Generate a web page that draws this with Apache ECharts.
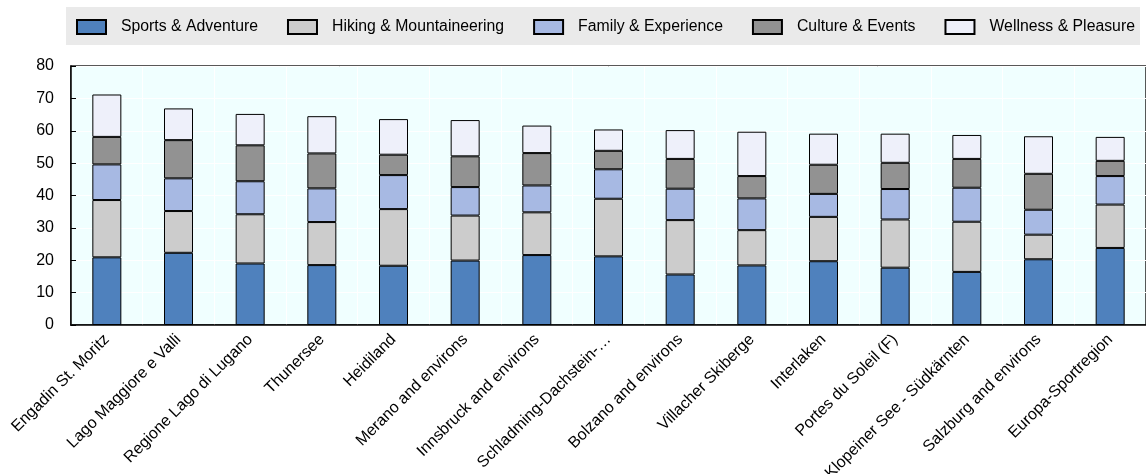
<!DOCTYPE html>
<html>
<head>
<meta charset="utf-8">
<script src="https://cdn.jsdelivr.net/npm/echarts@6/dist/echarts.min.js"></script>
<style>
    html, body { margin: 0; padding: 0; background: #fff; }
    #chart-box { width: 1146px; height: 474px; }
</style>
</head>
<body>
<div id="chart-box"></div>
<script>
// 地區名稱
var regions = ['Engadin St. Moritz', 'Lago Maggiore e Valli', 'Regione Lago di Lugano', 'Thunersee', 'Heidiland',
    'Merano and environs', 'Innsbruck and environs', 'Schladming-Dachstein-…', 'Bolzano and environs', 'Villacher Skiberge',
    'Interlaken', 'Portes du Soleil (F)', 'Klopeiner See - Südkärnten', 'Salzburg and environs', 'Europa-Sportregion'];

// 各類別數值
var sportsAdventure = [20.9, 22.3, 19.0, 18.5, 18.3, 19.9, 21.6, 21.2, 15.6, 18.4, 19.7, 17.7, 16.4, 20.3, 23.8];
var hikingMountain = [17.7, 12.9, 15.2, 13.3, 17.5, 13.9, 13.2, 17.8, 16.8, 10.9, 13.7, 14.9, 15.5, 7.6, 13.4];
var familyExperience = [11.0, 10.1, 10.2, 10.4, 10.5, 8.8, 8.3, 9.1, 9.7, 9.8, 7.1, 9.4, 10.5, 7.7, 8.8];
var cultureEvents = [8.5, 11.8, 11.1, 10.8, 6.3, 9.5, 10.0, 5.7, 9.2, 6.9, 9.0, 8.1, 8.9, 11.1, 4.7];
var wellnessPleasure = [13.1, 9.8, 9.7, 11.5, 11.0, 11.2, 8.5, 6.6, 8.9, 13.7, 9.6, 9.0, 7.4, 11.6, 7.4];

var seriesNames = ['Sports & Adventure', 'Hiking & Mountaineering', 'Family & Experience', 'Culture & Events', 'Wellness & Pleasure'];
var seriesData = [sportsAdventure, hikingMountain, familyExperience, cultureEvents, wellnessPleasure];

stackedChart();

function stackedChart() {
    var chartDom = document.getElementById('chart-box');
    var myChart = echarts.init(chartDom);
    var font = "'Liberation Sans Narrow', 'Arial Narrow', 'Liberation Sans', sans-serif";

    var option = {
        animation: false,
        color: ['#4f81bd', '#cccccc', '#a7b9e3', '#929292', '#eef0fa'],
        textStyle: { fontFamily: font },
        // 圖例底色
        graphic: [{
            type: 'rect',
            shape: { x: 66, y: 7, width: 1074, height: 38 },
            style: { fill: '#eaeaea' },
            z: -1
        }],
        legend: {
            left: 76,
            top: 19,
            width: 1100,
            padding: 0,
            itemWidth: 29,
            itemHeight: 14,
            itemGap: 29,
            icon: 'rect',
            textStyle: {
                color: '#000',
                fontSize: 15.8,
                fontFamily: font,
                padding: [0, 0, 0, 10]
            },
            data: seriesNames
        },
        grid: {
            left: 71,
            right: 0,
            top: 66,
            bottom: 149,
            outerBoundsMode: 'none',
            show: true,
            backgroundColor: '#f0ffff',
            borderColor: '#222',
            borderWidth: 1.5
        },
        xAxis: {
            type: 'category',
            data: regions,
            axisLine: { lineStyle: { color: '#000', width: 1.5 } },
            axisTick: { inside: true, length: 4, lineStyle: { color: '#000' } },
            splitLine: { show: true, lineStyle: { color: '#ffffff', width: 1 } },
            axisLabel: {
                interval: 0,
                rotate: 45,
                color: '#000',
                fontSize: 16,
                fontFamily: font,
                margin: 12
            }
        },
        yAxis: {
            type: 'value',
            min: 0,
            max: 80,
            interval: 10,
            axisLine: { show: true, lineStyle: { color: '#000', width: 1.5 } },
            axisTick: { show: true, inside: true, length: 5, lineStyle: { color: '#000' } },
            splitLine: { lineStyle: { color: '#ffffff', width: 1 } },
            axisLabel: { color: '#000', fontSize: 16, fontFamily: font, margin: 17 }
        },
        series: seriesNames.map(function (name, i) {
            return {
                name: name,
                type: 'bar',
                stack: 'total',
                barWidth: 29,
                data: seriesData[i],
                itemStyle: { borderColor: '#000', borderWidth: 1 }
            };
        })
    };

    myChart.setOption(option);
}
</script>
</body>
</html>
